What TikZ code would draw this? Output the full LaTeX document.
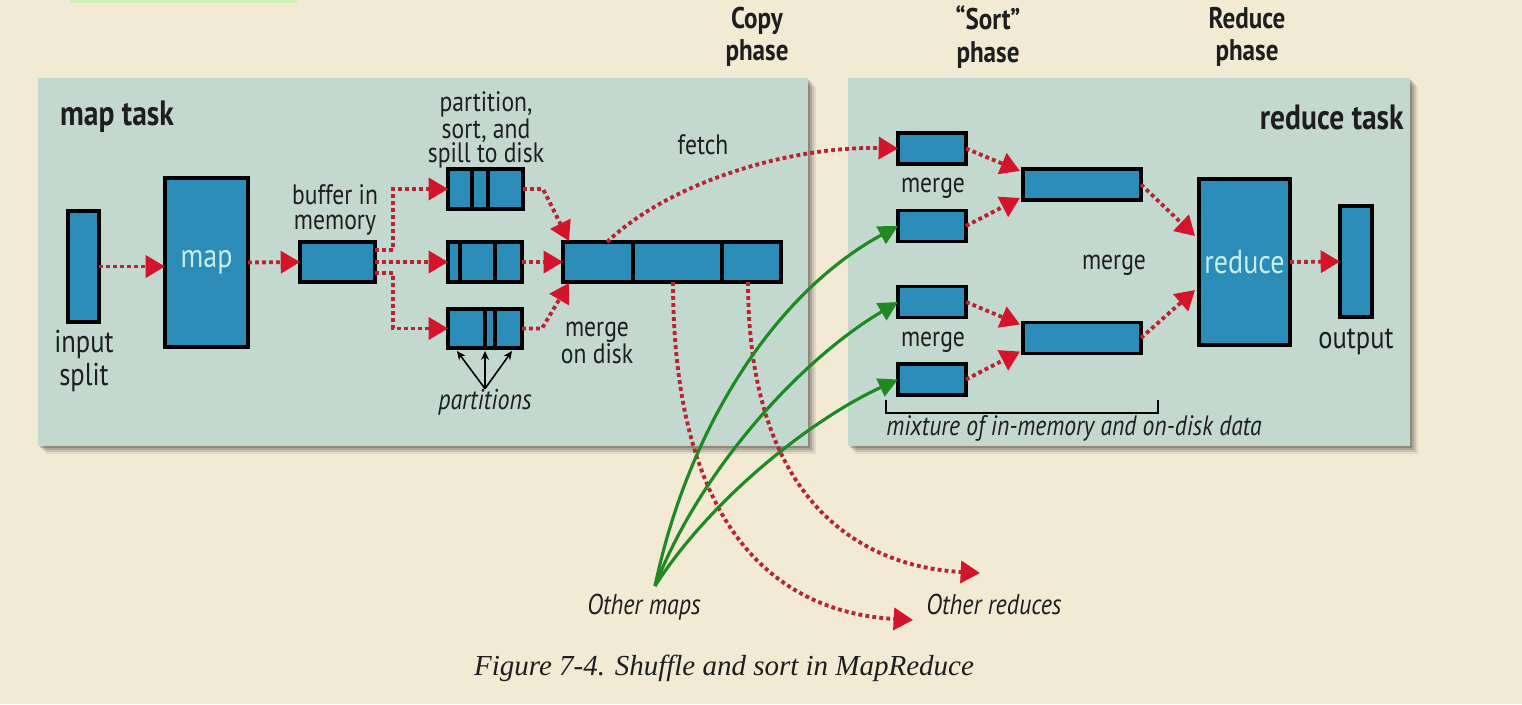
\documentclass[tikz,border=0pt]{standalone}
\usepackage{fontspec}
\setmainfont{PT Sans}[FakeStretch=0.84]
\newfontfamily\capfont{Liberation Serif}
\usetikzlibrary{arrows.meta,calc}
\definecolor{bg}{HTML}{F3EAD4}
\definecolor{panelc}{HTML}{C3D9CF}
\definecolor{boxblue}{HTML}{2B8CB8}
\definecolor{boxtext}{HTML}{C8EEE8}
\definecolor{reddot}{HTML}{B8242F}
\definecolor{redhead}{HTML}{D3142B}
\definecolor{grn}{HTML}{1F8A24}
\definecolor{topgreen}{HTML}{CFF2B8}
\definecolor{txt}{HTML}{1E1E1E}
\begin{document}
\begin{tikzpicture}[x=0.02cm,y=-0.02cm,
  blk/.style={draw=black, line width=1.9pt, fill=boxblue, inner sep=0pt, outer sep=0pt},
  divline/.style={draw=black, line width=1.9pt},
  rdot/.style={draw=reddot, line width=2.2pt, dash pattern=on 2.2pt off 1.8pt,
     -{Triangle[length=11pt,width=12.5pt,color=redhead]}},
  gline/.style={draw=grn, line width=1.8pt, -{Triangle[length=11pt,width=11pt,color=grn]}},
  parr/.style={draw=black, line width=0.9pt, -{Stealth[length=5pt,width=4.5pt]}},
  lbl/.style={align=center, inner sep=0pt, text=txt, font=\fontsize{16}{14}\selectfont},
  ilbl/.style={align=center, inner sep=0pt, text=txt, font=\fontsize{16.3}{14}\selectfont\itshape},
  bigl/.style={align=center, inner sep=0pt, text=txt, font=\fontsize{20}{20}\selectfont\bfseries},
  phl/.style={align=center, inner sep=0pt, text=txt, font=\fontsize{17}{18.5}\selectfont\bfseries}]
\useasboundingbox (0,0) rectangle (1522,704);
\fill[bg] (0,0) rectangle (1522,704);
\fill[topgreen] (70,0) rectangle (297,2.5);
% shadows
\foreach \o/\a in {8/0.07,6/0.10,4/0.14,2/0.18}{
  \fill[black,opacity=\a] (38+\o,78+\o) rectangle (808+\o,446+\o);
  \fill[black,opacity=\a] (848+\o,78+\o) rectangle (1410+\o,446+\o);
}
% panels
\fill[panelc] (38,78) rectangle (808,446);
\fill[panelc] (848,78) rectangle (1410,446);

% phase headings
\node[phl] (copyph) at (757,37) {Copy\\phase};
\node[phl] (sortph) at (988,37) {“Sort”\\phase};
\node[phl] (redph) at (1247,37) {Reduce\\phase};
\node[bigl] (maptask) at (117,117) {map task};
\node[bigl, anchor=east] (redtask) at (1404,117) {reduce task};

% map side boxes
\node[blk, minimum width=0.62cm, minimum height=2.22cm] (split) at (83.5,266.5) {};
\node[blk, minimum width=1.66cm, minimum height=3.38cm, text=boxtext, font=\fontsize{19}{19}\selectfont] (map) at (206.5,262.5) {map};
\node[blk, minimum width=1.5cm, minimum height=0.8cm] (buf) at (337.5,262) {};
\node[blk, minimum width=1.5cm, minimum height=0.8cm] (p1) at (485.5,189) {};
\node[blk, minimum width=1.48cm, minimum height=0.8cm] (p2) at (485,262) {};
\node[blk, minimum width=1.48cm, minimum height=0.78cm] (p3) at (485,328.5) {};
\node[blk, minimum width=4.36cm, minimum height=0.8cm] (mg) at (672,262) {};
\draw[divline] ($(p1.north west)+(24,0)$) -- ($(p1.south west)+(24,0)$);
\draw[divline] ($(p1.north west)+(40,0)$) -- ($(p1.south west)+(40,0)$);
\draw[divline] ($(p2.north west)+(12,0)$) -- ($(p2.south west)+(12,0)$);
\draw[divline] ($(p2.north west)+(47,0)$) -- ($(p2.south west)+(47,0)$);
\draw[divline] ($(p3.north west)+(37,0)$) -- ($(p3.south west)+(37,0)$);
\draw[divline] ($(p3.north west)+(47,0)$) -- ($(p3.south west)+(47,0)$);
\draw[divline] ($(mg.north west)+(70,0)$) -- ($(mg.south west)+(70,0)$);
\draw[divline] ($(mg.north west)+(159,0)$) -- ($(mg.south west)+(159,0)$);

% map side labels
\node[lbl, font=\fontsize{18}{18.5}\selectfont] (splitl) at (84,361) {input\\split};
\node[lbl] (bufl) at (335,210) {buffer in\\memory};
\node[lbl] (psl) at (486,130) {partition,\\sort, and\\spill to disk};
\node[lbl] (fetchl) at (703,145) {fetch};
\node[lbl] (mdl) at (597,343) {merge\\on disk};
\node[ilbl] (parts) at (485,402) {partitions};

% reduce side boxes
\node[blk, minimum width=1.36cm, minimum height=0.62cm] (A) at (932,148.5) {};
\node[blk, minimum width=1.36cm, minimum height=0.62cm] (B) at (932,226) {};
\node[blk, minimum width=1.36cm, minimum height=0.62cm] (C) at (932,302) {};
\node[blk, minimum width=1.36cm, minimum height=0.62cm] (D) at (932,379.5) {};
\node[blk, minimum width=2.36cm, minimum height=0.62cm] (M1) at (1082,184.5) {};
\node[blk, minimum width=2.36cm, minimum height=0.62cm] (M2) at (1082,338) {};
\node[blk, minimum width=1.82cm, minimum height=3.32cm, text=boxtext, font=\fontsize{19}{19}\selectfont] (R) at (1244.5,262) {reduce};
\node[blk, minimum width=0.64cm, minimum height=2.22cm] (O) at (1356,261.5) {};

% reduce side labels
\node[lbl] (mgA) at (933,188) {merge};
\node[lbl] (mgB) at (933,342) {merge};
\node[lbl] (mgC) at (1114,265) {merge};
\node[lbl, font=\fontsize{18}{18}\selectfont] (outl) at (1356,342) {output};
\node[ilbl, font=\fontsize{16}{16}\selectfont\itshape] (mix) at (1074,428) {mixture of in-memory and on-disk data};
\draw[line width=1pt] ($(D.south west)+(-12,5)$) coordinate (brA) -- ++(0,13) -| ++(272,-13) coordinate (brB);

% bottom labels
\node[ilbl] (omaps) at (644,607) {Other maps};
\node[ilbl] (oreds) at (994,604) {Other reduces};
\node[inner sep=0pt, text=txt, font=\capfont\fontsize{16.5}{16.5}\selectfont\itshape] (cap) at (724,668) {Figure 7-4. Shuffle and sort in MapReduce};
\coordinate (omstart) at (655,586);
\coordinate (or1) at (913,620);
\coordinate (or2) at (980,573);

% map side arrows
\draw[rdot] (split.east) -- (split.east -| map.west);
\draw[rdot] (map.east) -- (buf.west);
\draw[rdot] ($(buf.east)+(0,-12)$) -| ($(p1.west)+(-55,0)$) -- (p1.west);
\draw[rdot] (buf.east) -- (p2.west);
\draw[rdot] ($(buf.east)+(0,11)$) -| ($(p3.west)+(-55,0)$) -- (p3.west);
\draw[rdot] (p1.east) -- ++(20,0) -- ($(mg.north west)+(6,-1)$);
\draw[rdot] (p2.east) -- (mg.west);
\draw[rdot] (p3.east) -- ++(20,0) -- ($(mg.south west)+(6,1)$);
\draw[parr] (parts.north) -- ($(p3.south)+(-28,3)$);
\draw[parr] (parts.north) -- ($(p3.south)+(0,3)$);
\draw[parr] (parts.north) -- ($(p3.south)+(27,3)$);

% fetch and other reduces
\draw[rdot] ($(mg.north west)+(44,0)$) .. controls (670,182) and (790,146) .. (A.west);
\draw[rdot] ($(mg.south west)+(110,0)$) .. controls (673,520) and (770,612) .. (or1);
\draw[rdot] ($(mg.south west)+(185,0)$) .. controls (748,490) and (850,566) .. (or2);

% green from other maps
\draw[gline] (omstart) .. controls (690,420) and (780,290) .. (B.west);
\draw[gline] (omstart) .. controls (700,470) and (800,360) .. (C.west);
\draw[gline] (omstart) .. controls (710,500) and (810,420) .. (D.west);

% reduce side arrows
\draw[rdot] (A.east) -- ($(M1.north west)+(-3,2)$);
\draw[rdot] (B.east) -- ($(M1.south west)+(-3,-2)$);
\draw[rdot] (C.east) -- ($(M2.north west)+(-3,2)$);
\draw[rdot] (D.east) -- ($(M2.south west)+(-3,-2)$);
\draw[rdot] (M1.east) -- ($(R.north west)+(-4,57)$);
\draw[rdot] (M2.east) -- ($(R.south west)+(-4,-55)$);
\draw[rdot] (R.east) -- (O.west);
\end{tikzpicture}
\end{document}
